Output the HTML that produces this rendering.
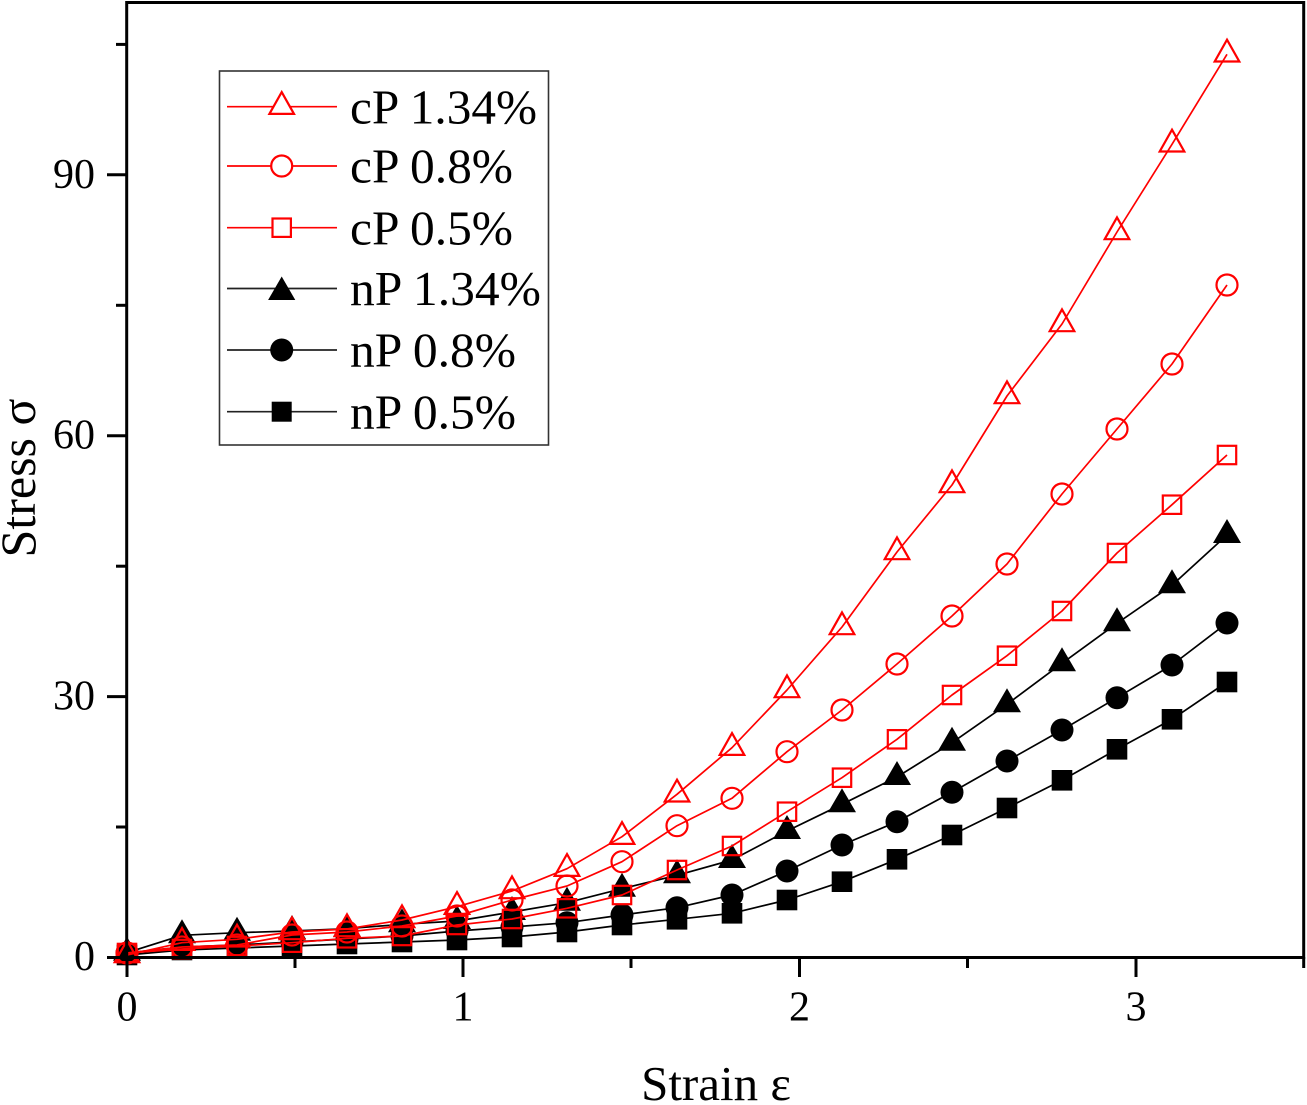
<!DOCTYPE html>
<html>
<head>
<meta charset="utf-8">
<style>
  html,body{margin:0;padding:0;background:#fff;}
  svg{display:block;}
  text{font-family:"Liberation Serif","DejaVu Serif",serif;fill:#000;}
</style>
</head>
<body>
<svg width="1307" height="1105" viewBox="0 0 1307 1105" xmlns="http://www.w3.org/2000/svg">
  <defs>
    <marker id="rT" viewBox="-20 -20 40 40" refX="0" refY="0" markerWidth="40" markerHeight="40" markerUnits="userSpaceOnUse" overflow="visible">
      <path d="M0,-14.6 L12.3,7.2 L-12.3,7.2Z" fill="none" stroke="#ff0000" stroke-width="2.2" stroke-linejoin="miter"/>
    </marker>
    <marker id="rC" viewBox="-20 -20 40 40" refX="0" refY="0" markerWidth="40" markerHeight="40" markerUnits="userSpaceOnUse" overflow="visible">
      <circle cx="0" cy="0" r="10.5" fill="none" stroke="#ff0000" stroke-width="2.2"/>
    </marker>
    <marker id="rS" viewBox="-20 -20 40 40" refX="0" refY="0" markerWidth="40" markerHeight="40" markerUnits="userSpaceOnUse" overflow="visible">
      <rect x="-9.2" y="-9.2" width="18.4" height="18.4" fill="none" stroke="#ff0000" stroke-width="2.2"/>
    </marker>
    <marker id="bT" viewBox="-20 -20 40 40" refX="0" refY="0" markerWidth="40" markerHeight="40" markerUnits="userSpaceOnUse" overflow="visible">
      <path d="M0,-16 L14,8 L-14,8Z" fill="#000"/>
    </marker>
    <marker id="bC" viewBox="-20 -20 40 40" refX="0" refY="0" markerWidth="40" markerHeight="40" markerUnits="userSpaceOnUse" overflow="visible">
      <circle cx="0" cy="0" r="11.5" fill="#000"/>
    </marker>
    <marker id="bS" viewBox="-20 -20 40 40" refX="0" refY="0" markerWidth="40" markerHeight="40" markerUnits="userSpaceOnUse" overflow="visible">
      <rect x="-10.3" y="-10.3" width="20.6" height="20.6" fill="#000"/>
    </marker>
  </defs>

  <!-- series: black first -->
  <g fill="none" stroke-width="1.7" stroke-linejoin="round">
    <polyline stroke="#000" marker-start="url(#bS)" marker-mid="url(#bS)" marker-end="url(#bS)"
      points="127,955 182,950 237,948 292,946 347,944 402,942 457,940 512,937 567,932 622,925 677,919.3 732,913.3 787,900 842,881.7 897,859.3 952,835 1007,808 1062,780.3 1117,749.3 1172,719.3 1227,682"/>
    <polyline stroke="#000" marker-start="url(#bC)" marker-mid="url(#bC)" marker-end="url(#bC)"
      points="127,953 182,947 237,945 292,942 347,939 402,936 457,931 512,927 567,922.7 622,915 677,907.7 732,895 787,871 842,845 897,821.7 952,792.3 1007,761 1062,730 1117,697.7 1172,665 1227,623"/>
    <polyline stroke="#000" marker-start="url(#bT)" marker-mid="url(#bT)" marker-end="url(#bT)"
      points="127,952.7 182,935.3 237,932.7 292,931 347,928.7 402,924.3 457,921 512,912 567,902.7 622,888.7 677,875.3 732,860 787,831 842,804.3 897,777 952,742.7 1007,704.3 1062,663.3 1117,623.3 1172,585.3 1227,535"/>
    <polyline stroke="#ff0000" marker-start="url(#rS)" marker-mid="url(#rS)" marker-end="url(#rS)"
      points="127,953 182,949 237,946 292,942.7 347,938.3 402,936 457,925 512,919 567,908.3 622,895 677,870 732,846 787,811.7 842,777.7 897,739.3 952,695 1007,655.7 1062,611 1117,553 1172,504.7 1227,455"/>
    <polyline stroke="#ff0000" marker-start="url(#rC)" marker-mid="url(#rC)" marker-end="url(#rC)"
      points="127,953 182,947 237,945 292,935 347,932 402,926 457,916 512,900 567,886 622,861.7 677,825.7 732,798.3 787,751.7 842,710 897,664 952,616 1007,564 1062,494 1117,429 1172,364 1227,285"/>
    <polyline stroke="#ff0000" marker-start="url(#rT)" marker-mid="url(#rT)" marker-end="url(#rT)"
      points="127,955 182,942.7 237,939.3 292,932 347,929 402,920 457,906.7 512,891 567,868.7 622,836.7 677,794.3 732,747.7 787,690 842,627 897,552 952,485 1007,396 1062,324 1117,232 1172,144.3 1227,54.3"/>
  </g>

  <!-- frame -->
  <rect x="126.7" y="2.5" width="1177" height="955" fill="none" stroke="#000" stroke-width="3"/>

  <!-- y ticks -->
  <g stroke="#000" stroke-width="3">
    <line x1="107" y1="957.5" x2="127" y2="957.5"/>
    <line x1="107" y1="696.6" x2="127" y2="696.6"/>
    <line x1="107" y1="435.7" x2="127" y2="435.7"/>
    <line x1="107" y1="174.8" x2="127" y2="174.8"/>
    <line x1="116" y1="827" x2="127" y2="827"/>
    <line x1="116" y1="566.2" x2="127" y2="566.2"/>
    <line x1="116" y1="305.3" x2="127" y2="305.3"/>
    <line x1="116" y1="44.4" x2="127" y2="44.4"/>
  </g>
  <!-- x ticks -->
  <g stroke="#000" stroke-width="3">
    <line x1="127" y1="957" x2="127" y2="977"/>
    <line x1="463" y1="957" x2="463" y2="977"/>
    <line x1="799.5" y1="957" x2="799.5" y2="977"/>
    <line x1="1136" y1="957" x2="1136" y2="977"/>
    <line x1="295" y1="957" x2="295" y2="968"/>
    <line x1="631" y1="957" x2="631" y2="968"/>
    <line x1="967.5" y1="957" x2="967.5" y2="968"/>
    <line x1="1303.7" y1="957" x2="1303.7" y2="968"/>
  </g>

  <!-- tick labels -->
  <g font-size="42" text-anchor="end">
    <text x="95" y="970">0</text>
    <text x="95" y="709.6">30</text>
    <text x="95" y="448.7">60</text>
    <text x="95" y="188">90</text>
  </g>
  <g font-size="42" text-anchor="middle">
    <text x="127" y="1020.5">0</text>
    <text x="463" y="1020.5">1</text>
    <text x="799.5" y="1020.5">2</text>
    <text x="1136" y="1020.5">3</text>
  </g>

  <!-- axis titles -->
  <text x="716" y="1100" font-size="49" text-anchor="middle">Strain ε</text>
  <text transform="translate(35,478) rotate(-90)" font-size="50" text-anchor="middle">Stress σ</text>

  <!-- legend -->
  <rect x="219.5" y="71" width="329" height="374" fill="#fff" stroke="#333" stroke-width="1.6"/>
  <g stroke-width="1.7">
    <line x1="227" y1="106.7" x2="337" y2="106.7" stroke="#ff0000"/>
    <path d="M281.7,92.1 L294,113.9 L269.4,113.9Z" fill="#fff" stroke="#ff0000" stroke-width="2.2"/>
    <line x1="227" y1="166" x2="337" y2="166" stroke="#ff0000"/>
    <circle cx="281.7" cy="166" r="10.5" fill="#fff" stroke="#ff0000" stroke-width="2.2"/>
    <line x1="227" y1="227.7" x2="337" y2="227.7" stroke="#ff0000"/>
    <rect x="272.5" y="218.5" width="18.4" height="18.4" fill="#fff" stroke="#ff0000" stroke-width="2.2"/>
    <line x1="227" y1="288.5" x2="337" y2="288.5" stroke="#222"/>
    <path d="M281.7,276.5 L295.3,300 L268.1,300Z" fill="#000" stroke="none"/>
    <line x1="227" y1="350" x2="337" y2="350" stroke="#222"/>
    <circle cx="281.7" cy="350" r="11.5" fill="#000"/>
    <line x1="227" y1="411.7" x2="337" y2="411.7" stroke="#222"/>
    <rect x="271.7" y="401.7" width="20" height="20" fill="#000"/>
  </g>
  <g font-size="49">
    <text x="350" y="123.3" textLength="187" lengthAdjust="spacingAndGlyphs">cP 1.34%</text>
    <text x="350" y="182.6" textLength="163" lengthAdjust="spacingAndGlyphs">cP 0.8%</text>
    <text x="350" y="244.3" textLength="163" lengthAdjust="spacingAndGlyphs">cP 0.5%</text>
    <text x="350" y="305" textLength="191" lengthAdjust="spacingAndGlyphs">nP 1.34%</text>
    <text x="350" y="366.6" textLength="166" lengthAdjust="spacingAndGlyphs">nP 0.8%</text>
    <text x="350" y="428.3" textLength="166" lengthAdjust="spacingAndGlyphs">nP 0.5%</text>
  </g>
</svg>
</body>
</html>
